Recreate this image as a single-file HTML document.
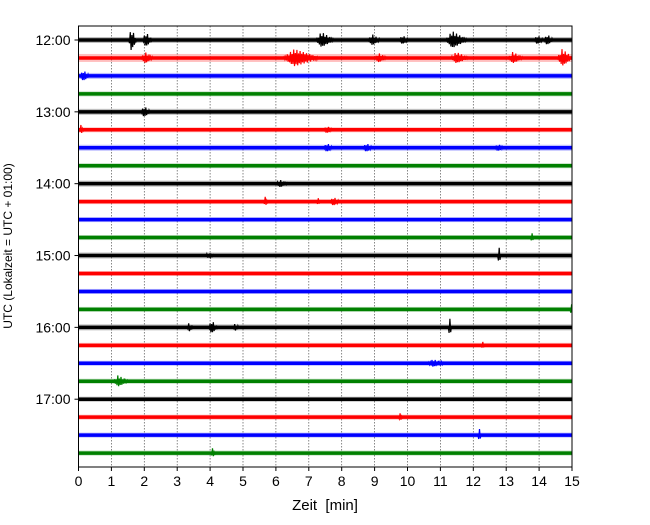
<!DOCTYPE html>
<html><head><meta charset="utf-8"><style>
body{margin:0;background:#fff;}
svg text{font-family:"Liberation Sans","DejaVu Sans",sans-serif;fill:#000;}
</style></head><body>
<svg id="c" width="650" height="520"></svg>
<script>
const xTicks=[0,1,2,3,4,5,6,7,8,9,10,11,12,13,14,15];
const yTickLabels=["12:00","13:00","14:00","15:00","16:00","17:00"];
const traceColors=["#000000","#ff0000","#0000ff","#008000"];
const traceNoise=[3,4,3,2.5,3,2.5,3,2.5,3,2.5,2.5,2.5,3,2.5,2.5,2.5,3,2.5,2.5,2.5,2.5,2.5,2.5,2.5];
const eventTrace=[0,0,0,0,0,0,0,0,1,1,1,1,1,1,2,4,5,5,6,6,6,8,9,9,9,11,12,12,15,16,16,16,16,17,18,19,21,22,23];
const eventMin  =[1.65,2.1,7.5,9.0,9.9,11.5,14.0,14.3,2.1,6.8,11.6,13.3,14.8,9.2,0.2,2.05,0.1,7.6,7.6,8.8,12.8,6.2,5.7,7.3,7.8,13.8,12.8,4.0,15,3.4,4.1,4.8,11.3,12.3,10.9,1.3,9.8,12.2,4.1];
const eventAmp  =[12,8,8,6,5,9,5,6,6,9,6,6,9,5,6,6,5,4,5,5,4,4,5,4,5,5,9,3,6,5,7,4,10,4,4,6,4,7,5];
const eventDur  =[0.25,0.3,0.6,0.4,0.3,0.7,0.3,0.3,0.4,1.2,0.6,0.5,0.5,0.4,0.3,0.3,0.15,0.3,0.3,0.3,0.3,0.4,0.15,0.1,0.3,0.1,0.1,0.3,0.1,0.2,0.3,0.2,0.08,0.1,0.6,0.5,0.15,0.05,0.15];
const svg=document.getElementById('c');const NS='http://www.w3.org/2000/svg';
const L=78.5,R=572,T=26,B=467;
const xS=m=>L+(R-L)*m/15;
const yS=i=>40+i*17.96;
function mk(t,a,p){const e=document.createElementNS(NS,t);for(const k in a)e.setAttribute(k,a[k]);(p||svg).appendChild(e);return e;}
xTicks.forEach(t=>{
 const g=mk('line',{x1:xS(t),x2:xS(t),y1:T,y2:B,stroke:'#555','stroke-width':0.7,'stroke-dasharray':'1.5,1.5'});
 
 
 const tk=mk('line',{x1:xS(t),x2:xS(t),y1:B,y2:B+4,stroke:'#000'});
 
 
 const tx=mk('text',{x:xS(t),y:B+19,'font-size':14,'text-anchor':'middle'});tx.textContent=t;
 
 
});
traceNoise.forEach((n,i)=>{
 const c=traceColors[i%4];
 const r=mk('rect',{x:L,y:yS(i)-n,width:R-L,height:2*n,fill:c,opacity:0.25});
 
 
 const l=mk('line',{x1:L,x2:R,y1:yS(i),y2:yS(i),stroke:c,'stroke-width':3.5});
 
 
});
eventTrace.forEach((ti,k)=>{
 const c=traceColors[ti%4];const cx=xS(eventMin[k]);const y=yS(ti);
 const a=eventAmp[k];const w=Math.max(2,(R-L)*eventDur[k]/15/2);
 const x0=Math.max(L,cx-w),x1=Math.min(R,cx+w);
 let pts=[];let j=0;
 for(let x=x0;x<=x1;x+=0.8,j++){
   const u=(x-(cx-w))/(2*w);
   const env=u<0.3?u/0.3:Math.max(0,(1-u)/0.7);
   const f=0.45+0.55*Math.abs(Math.sin(j*2.37));
   pts.push(x.toFixed(1)+','+(y+(j%2?1:-1)*a*env*f).toFixed(1));
 }
 const p=mk('polyline',{points:pts.join(' '),fill:'none',stroke:c,'stroke-width':1.2});
 
 
});
yTickLabels.forEach((s,j)=>{
 const y=yS(j*4);
 const tk=mk('line',{x1:L-4,x2:L,y1:y,y2:y,stroke:'#000'});
 
 
 const tx=mk('text',{x:L-8,y:y+5,'font-size':14,'text-anchor':'end'});tx.textContent=s;
 
 
});
const fr=mk('rect',{x:L,y:T,width:R-L,height:B-T,fill:'none',stroke:'#000','stroke-width':1});


const xl=mk('text',{x:325,y:510,'font-size':15,'text-anchor':'middle',style:'white-space:pre'});xl.textContent='Zeit  [min]';


const yl=mk('text',{x:0,y:0,'font-size':12,'text-anchor':'middle',transform:'translate(12,246) rotate(-90)'});yl.textContent='UTC (Lokalzeit = UTC + 01:00)';


</script>
</body></html>
